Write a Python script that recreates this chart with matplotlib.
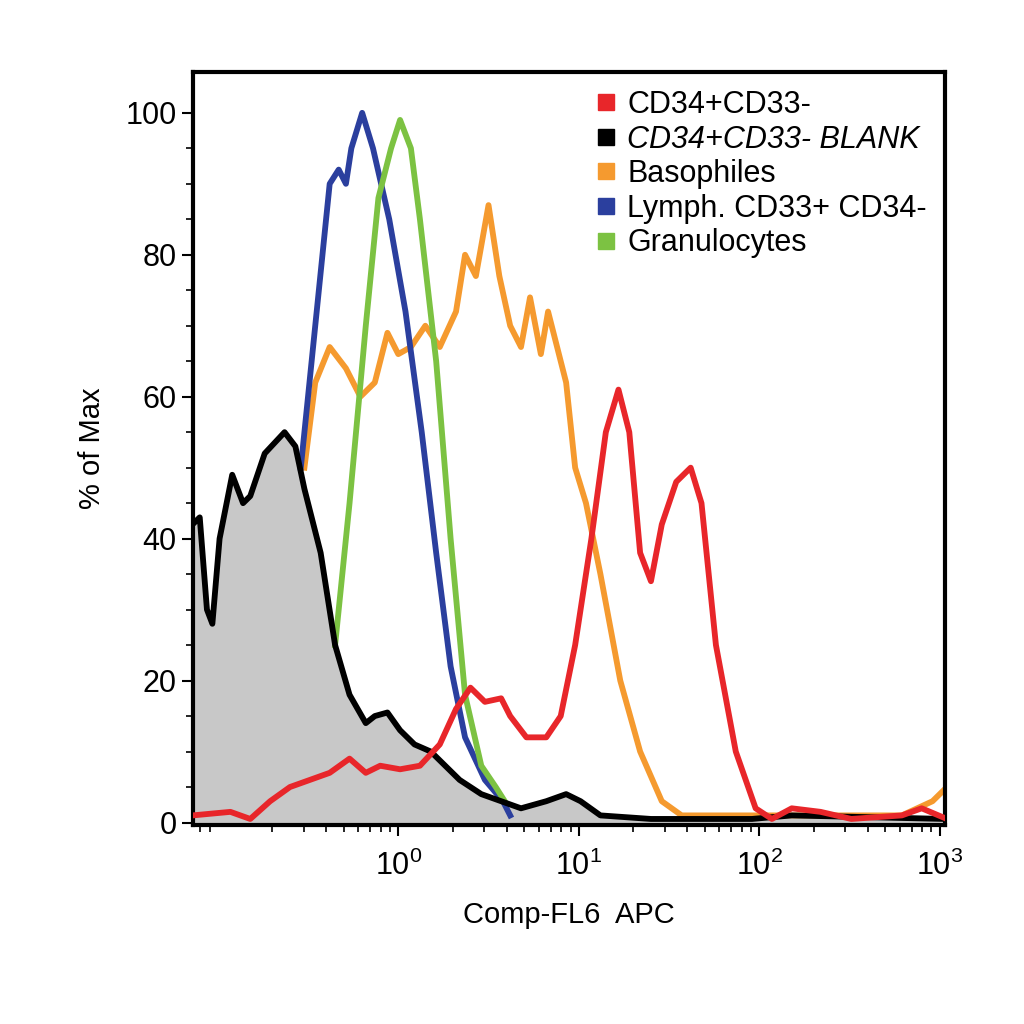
import matplotlib.pyplot as plt
from matplotlib.lines import Line2D
from matplotlib.ticker import LogLocator, FixedLocator, NullFormatter
import numpy as np

plt.rcParams['font.family'] = ['Liberation Sans', 'DejaVu Sans']
plt.rcParams['mathtext.fontset'] = 'custom'
plt.rcParams['mathtext.rm'] = 'Liberation Sans'

# x values are log10 of Comp-FL6 APC, y is % of Max
blank_x = [-1.14, -1.10, -1.06, -1.03, -0.99, -0.92, -0.86, -0.82, -0.74, -0.63, -0.57, -0.52, -0.43,
           -0.35, -0.27, -0.18, -0.13, -0.06, 0.01, 0.09, 0.18, 0.26, 0.34, 0.46, 0.57, 0.68, 0.82,
           0.93, 1.01, 1.12, 1.40, 1.96, 2.18, 3.03]
blank_y = [42, 43, 30, 28, 40, 49, 45, 46, 52, 55, 53, 47, 38, 25, 18, 14, 15, 15.5, 13, 11, 10, 8,
           6, 4, 3, 2, 3, 4, 3, 1, 0.5, 0.5, 1, 0.5]

lymph_x = [-0.54, -0.46, -0.38, -0.33, -0.29, -0.26, -0.20, -0.14, -0.05, 0.04, 0.13, 0.21, 0.29,
           0.37, 0.48, 0.58, 0.62]
lymph_y = [50, 70, 90, 92, 90, 95, 100, 95, 85, 72, 55, 38, 22, 12, 6, 3, 1]

gran_x = [-0.35, -0.27, -0.18, -0.11, -0.04, 0.01, 0.07, 0.12, 0.21, 0.29, 0.37, 0.46, 0.54, 0.59]
gran_y = [25, 45, 70, 88, 95, 99, 95, 85, 65, 40, 18, 8, 5, 3]

baso_x = [-0.52, -0.46, -0.38, -0.29, -0.21, -0.13, -0.06, 0.0, 0.07, 0.15, 0.23, 0.32, 0.37, 0.43,
          0.50, 0.56, 0.62, 0.68, 0.73, 0.79, 0.83, 0.87, 0.93, 0.98, 1.04, 1.12, 1.23, 1.34, 1.46,
          1.57, 1.90, 2.79, 2.96, 3.04]
baso_y = [50, 62, 67, 64, 60, 62, 69, 66, 67, 70, 67, 72, 80, 77, 87, 77, 70, 67, 74, 66, 72, 68,
          62, 50, 45, 35, 20, 10, 3, 1, 1, 1, 3, 5]

cd34_x = [-1.14, -0.93, -0.82, -0.71, -0.60, -0.49, -0.38, -0.27, -0.18, -0.10, 0.01, 0.12, 0.23,
          0.32, 0.40, 0.48, 0.57, 0.62, 0.71, 0.82, 0.90, 0.98, 1.07, 1.15, 1.22, 1.28, 1.34, 1.40,
          1.46, 1.54, 1.62, 1.68, 1.76, 1.87, 1.98, 2.07, 2.18, 2.34, 2.51, 2.79, 2.90, 3.04]
cd34_y = [1, 1.5, 0.5, 3, 5, 6, 7, 9, 7, 8, 7.5, 8, 11, 16, 19, 17, 17.5, 15, 12, 12, 15, 25, 40,
          55, 61, 55, 38, 34, 42, 48, 50, 45, 25, 10, 2, 0.5, 2, 1.5, 0.5, 1, 2, 0.5]

red = "#e8262a"
orange = "#f59a2f"
blue = "#2b3f9e"
green = "#7cc242"

fig = plt.figure(figsize=(10.24, 10.24), dpi=100)
ax = fig.add_axes([0.188, 0.194, 0.735, 0.736])

lw = 4.2
bx = 10 ** np.array(blank_x)
ax.fill_between(bx, blank_y, 0, color="#c8c8c8", zorder=1)
ax.plot(bx, blank_y, color="black", lw=lw, zorder=3, solid_joinstyle="round")
ax.plot(10 ** np.array(baso_x), baso_y, color=orange, lw=lw, zorder=2, solid_joinstyle="round")
ax.plot(10 ** np.array(lymph_x), lymph_y, color=blue, lw=lw, zorder=2, solid_joinstyle="round")
ax.plot(10 ** np.array(gran_x), gran_y, color=green, lw=lw, zorder=2, solid_joinstyle="round")
ax.plot(10 ** np.array(cd34_x), cd34_y, color=red, lw=lw, zorder=4, solid_joinstyle="round")

ax.set_xscale("log")
ax.set_xlim(10 ** -1.14, 10 ** 3.03)
ax.set_ylim(-0.4, 105.8)
ax.xaxis.set_major_locator(FixedLocator([1, 10, 100, 1000]))
ax.xaxis.set_minor_locator(LogLocator(base=10, subs=np.arange(2, 10)))
ax.xaxis.set_minor_formatter(NullFormatter())
ax.set_xticklabels(["$10^0$", "$10^1$", "$10^2$", "$10^3$"])
ax.set_yticks([0, 20, 40, 60, 80, 100])
ax.set_yticks(np.arange(0, 105, 5), minor=True)
ax.tick_params(axis="both", which="major", labelsize=22, length=8, width=1.5, direction="out")
ax.tick_params(axis="x", which="major", pad=10)
ax.tick_params(axis="both", which="minor", length=5, width=1.2, direction="out")
for s in ax.spines.values():
    s.set_linewidth(3)

ax.set_xlabel("Comp-FL6  APC", fontsize=21, labelpad=14)
ax.set_ylabel("% of Max", fontsize=21, labelpad=14)

handles = [Line2D([], [], ls="", marker="s", ms=11, color=c) for c in [red, "black", orange, blue, green]]
labels = ["CD34+CD33-", "CD34+CD33- BLANK", "Basophiles", "Lymph. CD33+ CD34-", "Granulocytes"]
leg = ax.legend(handles, labels, loc="upper right", frameon=False, fontsize=22,
                handletextpad=0.2, labelspacing=0.15, borderaxespad=0.2, handlelength=1)
leg.get_texts()[1].set_style("italic")

fig.savefig("out.png", dpi=100)
